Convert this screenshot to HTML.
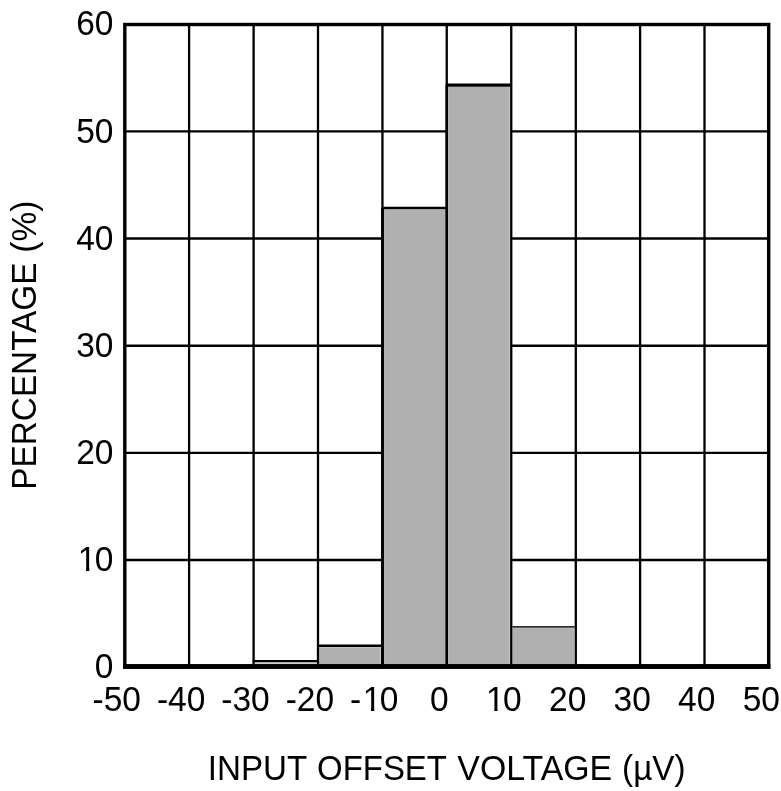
<!DOCTYPE html><html><head><meta charset="utf-8"><title>Input Offset Voltage Histogram</title>
<style>html,body{margin:0;padding:0;background:#fff}svg{display:block}text{font-family:"Liberation Sans",Arial,sans-serif;fill:#000}</style></head><body>
<svg width="781" height="791" viewBox="0 0 781 791">
<rect width="781" height="791" fill="#fff"/>
<defs><clipPath id="one"><path d="M-70 -32H6V-3.4H-70Z M-27.45 -6H-24.2V3H-27.45Z M-18.4 -6H6V3H-18.4Z"/></clipPath></defs>
<line x1="124.8" y1="131.40" x2="768.7" y2="131.40" stroke="#000" stroke-width="2.4"/>
<line x1="124.8" y1="238.55" x2="768.7" y2="238.55" stroke="#000" stroke-width="2.4"/>
<line x1="124.8" y1="345.75" x2="768.7" y2="345.75" stroke="#000" stroke-width="2.4"/>
<line x1="124.8" y1="452.90" x2="768.7" y2="452.90" stroke="#000" stroke-width="2.4"/>
<line x1="124.8" y1="559.95" x2="768.7" y2="559.95" stroke="#000" stroke-width="2.4"/>
<rect x="253.60" y="661.10" width="64.40" height="4.90" fill="#fff"/>
<rect x="254.85" y="662.50" width="61.60" height="3.50" fill="#cdcdcd"/>
<rect x="318.00" y="645.80" width="64.50" height="20.20" fill="#fff"/>
<rect x="319.25" y="647.25" width="61.40" height="18.75" fill="#b0b0b0"/>
<rect x="382.50" y="208.00" width="64.25" height="458.00" fill="#fff"/>
<rect x="384.05" y="209.45" width="61.07" height="456.55" fill="#b0b0b0"/>
<rect x="446.75" y="85.10" width="64.50" height="580.90" fill="#fff"/>
<rect x="448.08" y="86.85" width="61.62" height="579.15" fill="#b0b0b0"/>
<rect x="511.25" y="626.90" width="64.55" height="39.10" fill="#fff"/>
<rect x="512.50" y="628.05" width="61.75" height="37.95" fill="#b0b0b0"/>
<line x1="189.10" y1="24.5" x2="189.10" y2="667.1" stroke="#000" stroke-width="2.3"/>
<line x1="253.60" y1="24.5" x2="253.60" y2="667.1" stroke="#000" stroke-width="2.3"/>
<line x1="318.00" y1="24.5" x2="318.00" y2="667.1" stroke="#000" stroke-width="2.3"/>
<line x1="382.45" y1="24.5" x2="382.45" y2="667.1" stroke="#000" stroke-width="2.3"/>
<line x1="446.75" y1="24.5" x2="446.75" y2="667.1" stroke="#000" stroke-width="2.3"/>
<line x1="511.25" y1="24.5" x2="511.25" y2="667.1" stroke="#000" stroke-width="2.3"/>
<line x1="575.80" y1="24.5" x2="575.80" y2="667.1" stroke="#000" stroke-width="2.3"/>
<line x1="640.10" y1="24.5" x2="640.10" y2="667.1" stroke="#000" stroke-width="2.3"/>
<line x1="704.50" y1="24.5" x2="704.50" y2="667.1" stroke="#000" stroke-width="2.3"/>
<line x1="382.5" y1="208.0" x2="382.5" y2="666.0" stroke="#000" stroke-width="2.9"/>
<line x1="446.75" y1="85.1" x2="446.75" y2="666.0" stroke="#000" stroke-width="2.45"/>
<line x1="252.70" y1="661.1" x2="318.80" y2="661.1" stroke="#000" stroke-width="2.4"/>
<line x1="317.10" y1="645.8" x2="383.30" y2="645.8" stroke="#000" stroke-width="2.5"/>
<line x1="381.60" y1="208.0" x2="447.55" y2="208.0" stroke="#000" stroke-width="2.5"/>
<line x1="445.85" y1="85.1" x2="512.05" y2="85.1" stroke="#000" stroke-width="3.1"/>
<line x1="512.25" y1="626.9" x2="574.80" y2="626.9" stroke="#2a2a2a" stroke-width="1.9"/>
<rect x="124.8" y="24.5" width="643.90" height="642.60" fill="none" stroke="#000" stroke-width="3.4"/>
<rect x="123.1" y="664.05" width="647.3" height="4.7" fill="#000"/>
<text transform="translate(113.5 35.40) scale(1 1.045)" font-size="33.5" text-anchor="end">60</text>
<text transform="translate(113.5 142.50) scale(1 1.045)" font-size="33.5" text-anchor="end">50</text>
<text transform="translate(113.5 249.60) scale(1 1.045)" font-size="33.5" text-anchor="end">40</text>
<text transform="translate(113.5 356.70) scale(1 1.045)" font-size="33.5" text-anchor="end">30</text>
<text transform="translate(113.5 463.80) scale(1 1.045)" font-size="33.5" text-anchor="end">20</text>
<text transform="translate(113.5 570.90) scale(1 1.045)" font-size="33.5" text-anchor="start" clip-path="url(#one)"><tspan x="-35.68">1</tspan><tspan x="-18.64">0</tspan></text>
<text transform="translate(113.5 678.00) scale(1 1.045)" font-size="33.5" text-anchor="end">0</text>
<text transform="translate(140.90 711.2) scale(1 1.045)" font-size="33.5" text-anchor="end">-50</text>
<text transform="translate(205.29 711.2) scale(1 1.045)" font-size="33.5" text-anchor="end">-40</text>
<text transform="translate(269.68 711.2) scale(1 1.045)" font-size="33.5" text-anchor="end">-30</text>
<text transform="translate(334.07 711.2) scale(1 1.045)" font-size="33.5" text-anchor="end">-20</text>
<text transform="translate(398.46 711.2) scale(1 1.045)" font-size="33.5" text-anchor="start" clip-path="url(#one)"><tspan x="-48.43">-</tspan><tspan x="-35.68">1</tspan><tspan x="-18.64">0</tspan></text>
<text transform="translate(439.25 711.2) scale(1 1.045)" font-size="33.5" text-anchor="middle">0</text>
<text transform="translate(521.74 711.2) scale(1 1.045)" font-size="33.5" text-anchor="start" clip-path="url(#one)"><tspan x="-35.68">1</tspan><tspan x="-18.64">0</tspan></text>
<text transform="translate(586.28 711.2) scale(1 1.045)" font-size="33.5" text-anchor="end">20</text>
<text transform="translate(650.82 711.2) scale(1 1.045)" font-size="33.5" text-anchor="end">30</text>
<text transform="translate(715.36 711.2) scale(1 1.045)" font-size="33.5" text-anchor="end">40</text>
<text transform="translate(779.90 711.2) scale(1 1.045)" font-size="33.5" text-anchor="end">50</text>
<text id="xt" transform="translate(0 779.7) scale(1 1.045)" font-size="33.5"><tspan x="207.80" textLength="99.50" lengthAdjust="spacingAndGlyphs">INPUT</tspan> <tspan x="317.04" textLength="129.92" lengthAdjust="spacingAndGlyphs">OFFSET</tspan> <tspan x="457.32" textLength="154.81" lengthAdjust="spacingAndGlyphs">VOLTAGE</tspan> <tspan x="622.11" textLength="63.54" lengthAdjust="spacingAndGlyphs">(µV)</tspan></text>
<text id="yt" transform="translate(35.5 345) rotate(-90) scale(1 1.045)" font-size="33.5"><tspan x="-144.77" textLength="227.29" lengthAdjust="spacingAndGlyphs">PERCENTAGE</tspan> <tspan x="92.29" textLength="52.03" lengthAdjust="spacingAndGlyphs">(%)</tspan></text>
</svg></body></html>
